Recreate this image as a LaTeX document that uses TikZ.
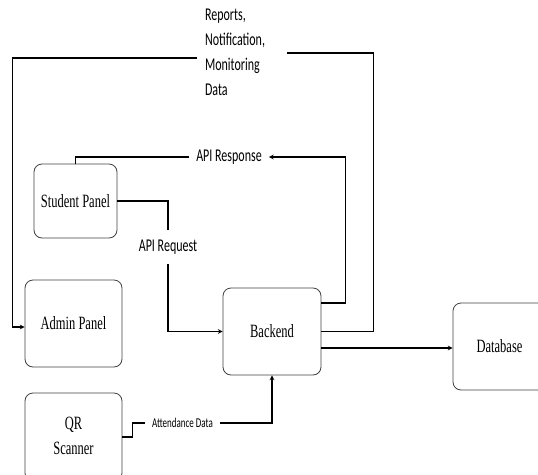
\documentclass[tikz,border=0pt]{standalone}
\usepackage{fontspec}
\usepackage{graphicx}
\setmainfont{Liberation Serif}
\newfontfamily\tagfont{Carlito}
\newcommand{\vstretch}[1]{\scalebox{1}[1.5]{#1}}

\tikzset{panel/.style={draw=black!75,line width=0.8pt,rounded corners=8pt,font=\fontsize{12.5}{17}\selectfont}}
\tikzset{tag/.style={inner xsep=7pt,inner ysep=10pt,font=\tagfont\fontsize{12}{16.5}\selectfont}}
\tikzset{wire/.style={line width=1.1pt}}
\tikzset{ewire/.style={wire,->,>=stealth}}

\begin{document}
\begin{tikzpicture}[x=1pt,y=-1pt]
        \useasboundingbox (0,0) rectangle (538,474);
        % draw the boxes
        \node[panel,minimum width=83pt,minimum height=74pt] (student) at (75.5,201) {\vstretch{Student Panel}};
        \node[panel,minimum width=97pt,minimum height=87pt] (admin) at (73.5,323.5) {\vstretch{Admin Panel}};
        \node[panel,minimum width=97pt,minimum height=88pt] (qr) at (73.5,437) {\vstretch{\begin{tabular}{c}QR\\Scanner\end{tabular}}};
        \node[panel,minimum width=98pt,minimum height=87pt] (backend) at (272,331.5) {\vstretch{Backend}};
        \node[panel,minimum width=93pt,minimum height=87pt] (db) at (499.5,346.5) {\vstretch{Database}};

        % draw the labels
        \node[tag,text width=74pt,align=left,inner xsep=8pt] (rep) at (242,53) {\vstretch{\begin{tabular}{@{}l@{}}Reports,\\Notification,\\Monitoring\\Data\end{tabular}}};
        \node[tag] (resp) at (229,157) {\vstretch{API Response}};
        \node[tag] (req) at (168,247) {\vstretch{API Request}};
        \node[tag,font=\tagfont\fontsize{9}{11}\selectfont] (att) at (182.5,423) {\vstretch{Attendance Data}};

        % draw the connections
        \draw[wire] (backend.east) -- ++(52,0) |- (rep.east);
        \draw[ewire] ([yshift=-5pt]rep.west) -| ([xshift=-12pt,yshift=-3.5pt]admin.west) -- ([yshift=-3.5pt]admin.west);
        \draw[ewire] ([yshift=28.5pt]backend.east) -- ++(24,0) |- (resp.east);
        \draw[wire] (resp.west) -| (student.north);
        \draw[wire] (student.east) -| (req.north);
        \draw[ewire] (req.south) |- (backend.west);
        \draw[wire] (qr.east) -- ++(10,0) |- (att.west);
        \draw[ewire] (att.east) -| (backend.south);
        \draw[ewire] ([yshift=-16.5pt]backend.east) -- ([yshift=-16.5pt]backend.east -| db.west);
    \end{tikzpicture}
\end{document}
